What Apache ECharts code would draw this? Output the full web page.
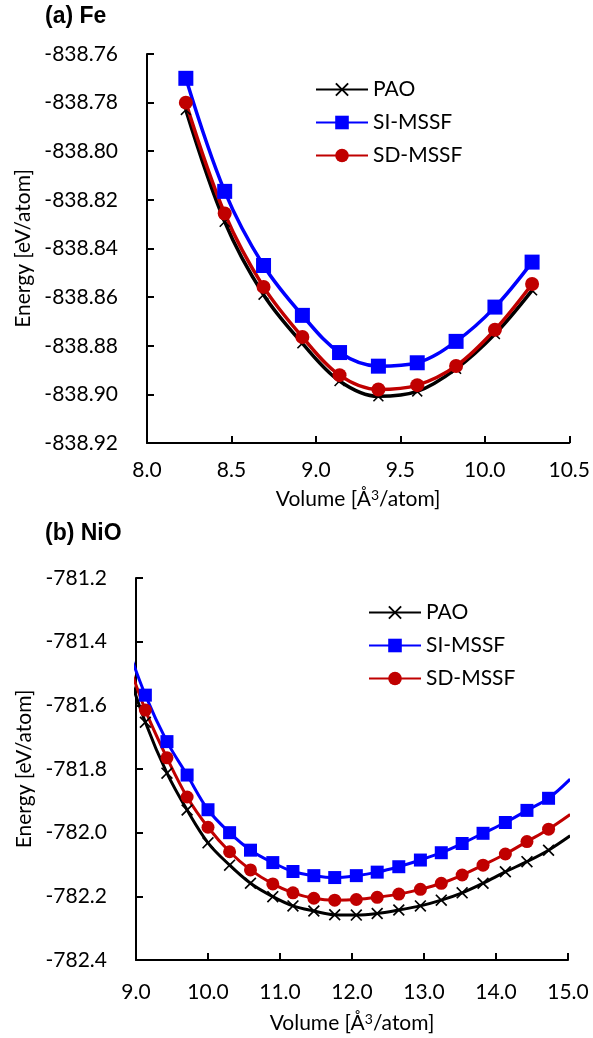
<!DOCTYPE html>
<html>
<head>
<meta charset="utf-8">
<script src="https://cdn.jsdelivr.net/npm/echarts@6/dist/echarts.min.js"></script>
<style>
  html, body { margin: 0; padding: 0; background: #fff; }
  #chart { width: 593px; height: 1038px; }
</style>
</head>
<body>
<div id="chart"></div>
<script>
// (a) Fe: total energy per atom vs. volume
const feVolume = [8.23, 8.46, 8.69, 8.92, 9.14, 9.37, 9.60, 9.83, 10.06, 10.28];
const fePAO    = [-838.783, -838.829, -838.859, -838.879, -838.8945, -838.9008, -838.8988, -838.8895, -838.8752, -838.8572];
const feSI     = [-838.770, -838.8165, -838.8470, -838.8675, -838.8828, -838.8884, -838.8870, -838.8782, -838.8641, -838.8456];
const feSD     = [-838.780, -838.8256, -838.8558, -838.8764, -838.8921, -838.8980, -838.8962, -838.8883, -838.8734, -838.8546];

// (b) NiO: the first and last volumes lie just outside the plotted window
const nioVolume = [8.84, 9.13, 9.43, 9.71, 10.00, 10.30, 10.59, 10.90, 11.18, 11.47, 11.76,
                   12.06, 12.35, 12.65, 12.95, 13.24, 13.53, 13.82, 14.13, 14.43, 14.73, 15.03];
const nioPAO = [-781.46, -781.653, -781.813, -781.929, -782.032, -782.102, -782.159, -782.201, -782.230, -782.246, -782.258,
                -782.259, -782.254, -782.243, -782.230, -782.212, -782.189, -782.159, -782.123, -782.091, -782.055, -782.010];
const nioSI  = [-781.39, -781.568, -781.714, -781.819, -781.928, -782.000, -782.055, -782.094, -782.122, -782.135, -782.141,
                -782.135, -782.124, -782.107, -782.086, -782.063, -782.034, -782.002, -781.968, -781.930, -781.892, -781.832];
const nioSD  = [-781.43, -781.615, -781.765, -781.888, -781.983, -782.060, -782.117, -782.161, -782.189, -782.206, -782.212,
                -782.210, -782.203, -782.193, -782.178, -782.159, -782.133, -782.102, -782.067, -782.028, -781.989, -781.943];

const seriesNames = ['PAO', 'SI-MSSF', 'SD-MSSF'];
const panelTitles = ['(a) Fe', '(b) NiO'];
const xTitle = 'Volume [Å{sup|3}/atom]';
const yTitle = 'Energy [eV/atom]';

const FONT = 'Lato, "Open Sans", sans-serif';
const BLACK = '#000000', BLUE = '#0000FF', RED = '#C00000';
const crossSymbol = 'path://M0,1 L1,0 L5,4 L9,0 L10,1 L6,5 L10,9 L9,10 L5,6 L1,10 L0,9 L4,5 Z';

function lineSeries(name, xs, ys, idx, color, symbol, size, width) {
  return {
    name: name,
    type: 'line',
    xAxisIndex: idx,
    yAxisIndex: idx,
    data: xs.map((x, i) => [x, ys[i]]),
    smooth: 0.35,
    symbol: symbol,
    symbolSize: size,
    showSymbol: true,
    clip: true,
    lineStyle: { color: color, width: width },
    itemStyle: { color: color, borderWidth: 0 },
    emphasis: { disabled: true },
    animation: false
  };
}

function xAxisOf(idx, min, max, step, margin, gap) {
  return {
    type: 'value', gridIndex: idx, min: min, max: max, interval: step,
    axisLine: { show: true, onZero: false, lineStyle: { color: BLACK, width: 2 } },
    axisTick: { show: true, inside: true, length: 7, lineStyle: { color: BLACK, width: 2 } },
    splitLine: { show: false },
    axisLabel: { color: BLACK, fontSize: 21, fontFamily: FONT, margin: margin,
                 formatter: v => v.toFixed(1) },
    name: xTitle, nameLocation: 'middle', nameGap: gap,
    nameTextStyle: {
      color: BLACK, fontSize: 21, fontFamily: FONT,
      rich: { sup: { fontSize: 14, fontFamily: FONT, color: BLACK, padding: [0, 0, 9, 0] } }
    }
  };
}

function yAxisOf(idx, min, max, step, digits, gap) {
  return {
    type: 'value', gridIndex: idx, min: min, max: max, interval: step,
    axisLine: { show: true, onZero: false, lineStyle: { color: BLACK, width: 2 } },
    axisTick: { show: true, inside: true, length: 7, lineStyle: { color: BLACK, width: 2 } },
    splitLine: { show: false },
    axisLabel: { color: BLACK, fontSize: 21, fontFamily: FONT, margin: 29,
                 formatter: v => v.toFixed(digits) },
    name: yTitle, nameLocation: 'middle', nameGap: gap, nameRotate: 90,
    nameTextStyle: { color: BLACK, fontSize: 21, fontFamily: FONT }
  };
}

function legendOf(left, top) {
  return {
    data: seriesNames, orient: 'vertical', left: left, top: top, padding: 0,
    itemWidth: 52, itemHeight: 17, itemGap: 12, selectedMode: false,
    textStyle: { color: BLACK, fontSize: 21, fontFamily: FONT, lineHeight: 17 }
  };
}

const chart = echarts.init(document.getElementById('chart'), null, { renderer: 'canvas' });
chart.setOption({
  backgroundColor: '#ffffff',
  animation: false,
  title: [
    { text: panelTitles[0], left: 45, top: 5, padding: 0,
      textStyle: { color: BLACK, fontSize: 23, fontWeight: 'bold', fontFamily: '"Liberation Sans", Arial, sans-serif' } },
    { text: panelTitles[1], left: 45, top: 522, padding: 0,
      textStyle: { color: BLACK, fontSize: 23, fontWeight: 'bold', fontFamily: '"Liberation Sans", Arial, sans-serif' } }
  ],
  legend: [legendOf(315, 79), legendOf(368, 602)],
  grid: [
    { left: 147, right: 21, top: 54, height: 389 },
    { left: 136, right: 25, top: 578, height: 382 }
  ],
  xAxis: [xAxisOf(0, 8.0, 10.5, 0.5, 17, 45), xAxisOf(1, 9.0, 15.0, 1.0, 22, 52)],
  yAxis: [yAxisOf(0, -838.92, -838.76, 0.02, 2, 112), yAxisOf(1, -782.4, -781.2, 0.2, 1, 101)],
  series: [
    lineSeries(seriesNames[0], feVolume, fePAO, 0, BLACK, crossSymbol, 11, 3.5),
    lineSeries(seriesNames[1], feVolume, feSI, 0, BLUE, 'rect', 15, 3.5),
    lineSeries(seriesNames[2], feVolume, feSD, 0, RED, 'circle', 14, 3.5),
    lineSeries(seriesNames[0], nioVolume, nioPAO, 1, BLACK, crossSymbol, 12, 3),
    lineSeries(seriesNames[1], nioVolume, nioSI, 1, BLUE, 'rect', 13, 3),
    lineSeries(seriesNames[2], nioVolume, nioSD, 1, RED, 'circle', 13, 3)
  ]
});
</script>
</body>
</html>
